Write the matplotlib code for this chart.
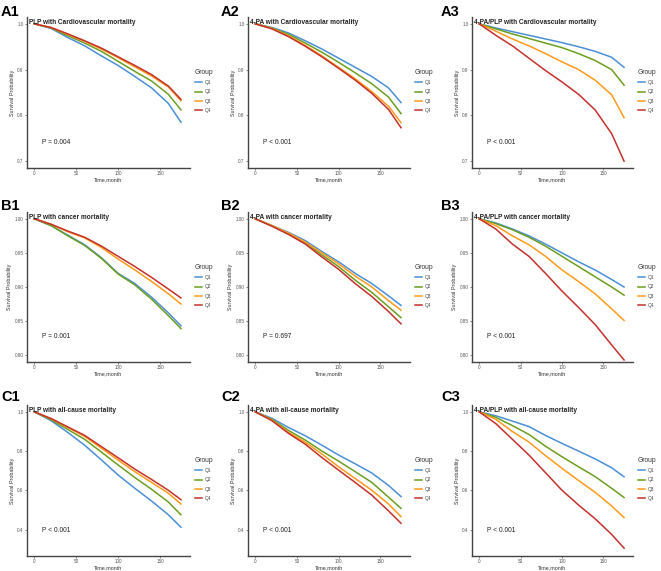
import matplotlib
matplotlib.use("Agg")
import matplotlib.pyplot as plt
import numpy as np

plt.rcParams['font.family'] = ['Liberation Sans', 'DejaVu Sans']

# follow-up time knots (months)
months = [0, 20, 40, 60, 80, 100, 120, 140, 160, 175]
groups = ['Q1', 'Q2', 'Q3', 'Q4']
colors = ['#4a8fd6', '#6b9e1f', '#ff9a1a', '#c4302b']

panel_tags = ['A1', 'A2', 'A3', 'B1', 'B2', 'B3', 'C1', 'C2', 'C3']
titles = ['PLP with Cardiovascular mortality', '4-PA with Cardiovascular mortality',
          '4-PA/PLP with Cardiovascular mortality',
          'PLP with cancer mortality', '4-PA with cancer mortality',
          '4-PA/PLP with cancer mortality',
          'PLP with all-cause mortality', '4-PA with all-cause mortality',
          '4-PA/PLP with all-cause mortality']
p_labels = ['P = 0.004', 'P < 0.001', 'P < 0.001',
            'P = 0.001', 'P = 0.697', 'P < 0.001',
            'P < 0.001', 'P < 0.001', 'P < 0.001']

# survival probability per panel, Q1..Q4
surv_A1 = [[1.0, 0.99, 0.97, 0.952, 0.93, 0.909, 0.885, 0.86, 0.826, 0.785],
           [1.0, 0.991, 0.974, 0.958, 0.94, 0.918, 0.896, 0.875, 0.846, 0.812],
           [1.0, 0.992, 0.977, 0.962, 0.945, 0.926, 0.906, 0.886, 0.862, 0.832],
           [1.0, 0.992, 0.978, 0.963, 0.947, 0.928, 0.909, 0.889, 0.864, 0.835]]
surv_A2 = [[1.0, 0.992, 0.98, 0.963, 0.945, 0.925, 0.905, 0.885, 0.86, 0.828],
           [1.0, 0.991, 0.977, 0.958, 0.938, 0.916, 0.893, 0.869, 0.84, 0.804],
           [1.0, 0.99, 0.974, 0.953, 0.93, 0.905, 0.88, 0.852, 0.82, 0.784],
           [1.0, 0.989, 0.972, 0.951, 0.928, 0.903, 0.877, 0.848, 0.813, 0.773]]
surv_A3 = [[1.0, 0.991, 0.983, 0.975, 0.967, 0.959, 0.95, 0.94, 0.927, 0.905],
           [1.0, 0.989, 0.978, 0.968, 0.958, 0.948, 0.935, 0.92, 0.9, 0.866],
           [1.0, 0.984, 0.967, 0.952, 0.935, 0.917, 0.9, 0.877, 0.845, 0.795],
           [1.0, 0.975, 0.952, 0.925, 0.898, 0.873, 0.846, 0.812, 0.76, 0.70]]
surv_B1 = [[1.0, 0.99, 0.976, 0.962, 0.943, 0.92, 0.905, 0.885, 0.862, 0.843],
           [1.0, 0.99, 0.975, 0.961, 0.942, 0.919, 0.903, 0.882, 0.858, 0.839],
           [1.0, 0.992, 0.981, 0.972, 0.958, 0.941, 0.925, 0.908, 0.89, 0.875],
           [1.0, 0.992, 0.982, 0.973, 0.96, 0.945, 0.93, 0.914, 0.897, 0.884]]
surv_B2 = [[1.0, 0.99, 0.98, 0.968, 0.952, 0.937, 0.92, 0.905, 0.887, 0.873],
           [1.0, 0.99, 0.978, 0.965, 0.947, 0.93, 0.91, 0.892, 0.871, 0.855],
           [1.0, 0.99, 0.979, 0.966, 0.95, 0.934, 0.916, 0.9, 0.88, 0.866],
           [1.0, 0.989, 0.977, 0.963, 0.944, 0.926, 0.905, 0.886, 0.864, 0.846]]
surv_B3 = [[1.0, 0.994, 0.985, 0.975, 0.963, 0.95, 0.937, 0.925, 0.911, 0.9],
           [1.0, 0.993, 0.984, 0.973, 0.96, 0.945, 0.93, 0.915, 0.9, 0.888],
           [1.0, 0.99, 0.975, 0.962, 0.945, 0.925, 0.908, 0.89, 0.868, 0.851],
           [1.0, 0.985, 0.963, 0.945, 0.92, 0.894, 0.87, 0.845, 0.815, 0.793]]
surv_C1 = [[1.0, 0.955, 0.895, 0.83, 0.755, 0.678, 0.61, 0.545, 0.475, 0.412],
           [1.0, 0.96, 0.91, 0.86, 0.795, 0.729, 0.665, 0.605, 0.54, 0.475],
           [1.0, 0.965, 0.92, 0.875, 0.815, 0.754, 0.695, 0.64, 0.585, 0.53],
           [1.0, 0.966, 0.923, 0.88, 0.823, 0.766, 0.708, 0.655, 0.6, 0.552]]
surv_C2 = [[1.0, 0.967, 0.92, 0.878, 0.83, 0.78, 0.735, 0.688, 0.625, 0.568],
           [1.0, 0.962, 0.905, 0.856, 0.8, 0.749, 0.695, 0.64, 0.565, 0.508],
           [1.0, 0.958, 0.895, 0.845, 0.785, 0.72, 0.66, 0.6, 0.53, 0.466],
           [1.0, 0.955, 0.89, 0.835, 0.767, 0.703, 0.64, 0.575, 0.495, 0.432]]
surv_C3 = [[1.0, 0.98, 0.953, 0.925, 0.88, 0.839, 0.8, 0.76, 0.715, 0.669],
           [1.0, 0.972, 0.93, 0.885, 0.825, 0.771, 0.72, 0.67, 0.61, 0.563],
           [1.0, 0.962, 0.9, 0.846, 0.777, 0.712, 0.65, 0.59, 0.52, 0.461],
           [1.0, 0.94, 0.86, 0.78, 0.69, 0.60, 0.525, 0.455, 0.375, 0.305]]
all_surv = [surv_A1, surv_A2, surv_A3, surv_B1, surv_B2, surv_B3, surv_C1, surv_C2, surv_C3]

row_ticks = [[0.7, 0.8, 0.9, 1.0], [0.80, 0.85, 0.90, 0.95, 1.00], [0.4, 0.6, 0.8, 1.0]]
row_ticklabels = [['0.7', '0.8', '0.9', '1.0'], ['0.80', '0.85', '0.90', '0.95', '1.00'],
                  ['0.4', '0.6', '0.8', '1.0']]
row_lims = [(0.685, 1.015), (0.79, 1.01), (0.265, 1.035)]

W, H = 661, 571
fig = plt.figure(figsize=(W / 100, H / 100), dpi=100)

col_px = [(27, 190), (248, 410), (472, 633)]
row_px = [(17, 168), (212, 362), (405, 556)]
tag_x = [1, 221, 441]
tag_y = [12, 206, 397]

for i in range(9):
    r, c = divmod(i, 3)
    x0, x1 = col_px[c]
    y0, y1 = row_px[r]
    ax = fig.add_axes([x0 / W, 1 - y1 / H, (x1 - x0) / W, (y1 - y0) / H])
    for g in range(4):
        ax.plot(months, all_surv[i][g], color=colors[g], lw=1.1, label=groups[g])
    ax.set_xlim(-8.8, 185.8)
    ax.set_ylim(*row_lims[r])
    ax.set_xticks([0, 50, 100, 150])
    ax.set_yticks(row_ticks[r])
    ax.set_yticklabels(row_ticklabels[r])
    ax.tick_params(labelsize=3.3, labelcolor='#555555', colors='#555555',
                   length=1.5, width=0.5, pad=1.0)
    for s in ['top', 'right']:
        ax.spines[s].set_visible(False)
    for s in ['left', 'bottom']:
        ax.spines[s].set_color('#444444')
        ax.spines[s].set_linewidth(1.0)
    ax.set_xlabel('Time,month', fontsize=3.9, color='#333333', labelpad=0.6)
    ax.set_ylabel('Survival Probability', fontsize=3.9, color='#333333', labelpad=1.8)
    ax.text(0.012, 0.965, titles[i], transform=ax.transAxes, fontsize=4.7,
            fontweight='bold', color='#222222', va='center', ha='left')
    ax.text(0.095, 0.17, p_labels[i], transform=ax.transAxes, fontsize=4.8,
            color='#222222', va='center', ha='left')
    leg = ax.legend(loc='upper left', bbox_to_anchor=((x1 + 3) / W, 1 - (y0 + 50) / H),
                    bbox_transform=fig.transFigure, frameon=False, title='Group',
                    fontsize=3.4, title_fontsize=4.8, handlelength=1.4,
                    labelspacing=0.9, handletextpad=0.6, borderaxespad=0)
    leg._legend_box.align = 'left'
    for t in leg.get_texts():
        t.set_color('#444444')
    leg.get_title().set_color('#333333')
    fig.text(tag_x[c] / W, 1 - tag_y[r] / H, panel_tags[i], fontsize=10.5,
             fontweight='bold', va='center', ha='left')

fig.savefig('out.png', dpi=100)
